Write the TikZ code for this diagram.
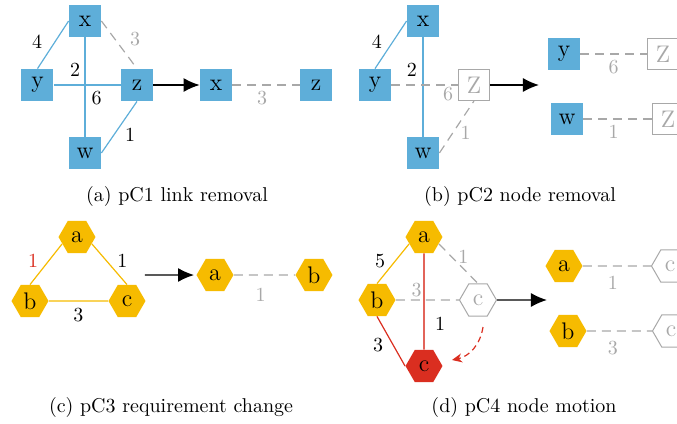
\documentclass[tikz,border=0pt]{standalone}
\usetikzlibrary{arrows.meta,shapes.geometric}
\definecolor{nodeblue}{RGB}{94,174,217}
\definecolor{nodeyellow}{RGB}{246,187,0}
\definecolor{nodered}{RGB}{218,46,32}
\definecolor{linkred}{RGB}{226,100,90}
\definecolor{faded}{RGB}{168,168,168}
\begin{document}
\begin{tikzpicture}[x=0.5pt,y=-0.5pt,
  box/.style={rectangle,fill=nodeblue,minimum size=16pt,inner sep=0pt,font=\large},
  gbox/.style={rectangle,draw=faded,text=faded,fill=white,minimum size=15.5pt,inner sep=0pt,line width=0.5pt,font=\large},
  hex/.style={regular polygon,regular polygon sides=6,fill=nodeyellow,minimum size=18.5pt,inner sep=0pt,font=\large},
  ghex/.style={hex,fill=white,draw=faded,text=faded,line width=0.5pt},
  rhex/.style={hex,fill=nodered},
  blink/.style={nodeblue,line width=0.6pt},
  ylink/.style={nodeyellow,line width=0.6pt},
  rlink/.style={nodered,line width=0.6pt},
  glink/.style={faded,line width=0.6pt,dash pattern=on 4.5pt off 3pt},
  lbl/.style={inner sep=0pt,text=black},
  glbl/.style={lbl,text=faded},
  move/.style={-{Latex[length=8pt,width=7pt]},line width=0.7pt},
  caption/.style={inner sep=0pt}]
\useasboundingbox (0,0) rectangle (677,424);
\clip (0,0) rectangle (677,424);
% (a)
\node[box]   (xa)  at (85,21)    {x};
\node[box]   (ya)  at (37.5,85)  {y};
\node[box]   (za)  at (137,85)   {z};
\node[box]   (wa)  at (85,153)   {w};
\node[box]   (xa2) at (216,85)   {x};
\node[box]   (za2) at (316,85)   {z};
\draw[blink] (xa.west)  -- node[lbl,pos=.5,xshift=-8pt,yshift=1.5pt] {4} (ya.north);
\draw[blink] (xa.south) -- node[lbl,pos=.33,xshift=-5pt] {2} (wa.north);
\draw[blink] (ya.east)  -- node[lbl,pos=.64,yshift=-6.5pt] {6} (za.west);
\draw[blink] (wa.east)  -- node[lbl,pos=.5,xshift=5.5pt,yshift=-4pt] {1} (za.south);
\draw[glink] (xa.east)  -- node[glbl,pos=.5,xshift=8pt,yshift=3pt] {3} (za.north);
\draw[glink] (xa2.east) -- node[glbl,pos=.5,xshift=-2pt,yshift=-6.5pt] {3} (za2.west);
\draw[move]  (za.east)  -- (xa2.west);
\node[caption] (capa) at (177,196) {(a) pC1 link removal};
% (b)
\node[box]   (xb)  at (423,21)   {x};
\node[box]   (yb)  at (375,85)   {y};
\node[gbox]  (zb)  at (474,85)   {Z};
\node[box]   (wb)  at (423,153)  {w};
\node[box]   (yb2) at (564,54)   {y};
\node[gbox]  (zb2) at (663,54)   {Z};
\node[box]   (wb2) at (567,119)  {w};
\node[gbox]  (zb3) at (668,119)  {Z};
\coordinate  (tb)  at (539,85);
\draw[blink] (xb.west)  -- node[lbl,pos=.5,xshift=-7pt,yshift=1.5pt] {4} (yb.north);
\draw[blink] (xb.south) -- node[lbl,pos=.33,xshift=-5.5pt] {2} (wb.north);
\draw[glink] (yb.east)  -- node[glbl,pos=.85,yshift=-4.5pt] {6} (zb.west);
\draw[glink] (wb.east)  -- node[glbl,pos=.5,xshift=4.5pt,yshift=-3pt] {1} (zb.south);
\draw[glink] (yb2.east) -- node[glbl,pos=.5,yshift=-6.5pt] {6} (zb2.west);
\draw[glink] (wb2.east) -- node[glbl,pos=.5,xshift=-2pt,yshift=-6.5pt] {1} (zb3.west);
\draw[move]  (zb.east)  -- (tb);
\node[caption] (capb) at (520,196) {(b) pC2 node removal};
% (c)
\node[hex]   (ac)  at (77,237)   {a};
\node[hex]   (bc)  at (30,301)   {b};
\node[hex]   (cc)  at (127,301)  {c};
\node[hex]   (ac2) at (215,275)  {a};
\node[hex]   (bc2) at (314,275)  {b};
\coordinate  (sc)  at (145,275);
\draw[ylink] (ac.205)   -- node[lbl,pos=.5,xshift=-6.5pt,yshift=1.5pt,text=nodered] {1} (bc.north);
\draw[ylink] (ac.-25)   -- node[lbl,pos=.5,xshift=6.5pt,yshift=1.5pt] {1} (cc.north);
\draw[ylink] (bc.east)  -- node[lbl,pos=.5,yshift=-7pt] {3} (cc.west);
\draw[glink] (ac2.east) -- node[glbl,pos=.5,xshift=-2pt,yshift=-10pt] {1} (bc2.west);
\draw[move,shorten >=1pt] (sc) -- (ac2.west);
\node[caption] (capc) at (171,407) {(c) pC3 requirement change};
% (d)
\node[hex]   (ad)  at (424,237)  {a};
\node[hex]   (bd)  at (377,300)  {b};
\node[ghex]  (cd)  at (478,300)  {c};
\node[rhex]  (rd)  at (424,366)  {c};
\node[hex]   (ad2) at (564,266)  {a};
\node[ghex]  (cd2) at (670,266)  {c};
\node[hex]   (bd2) at (568,331)  {b};
\node[ghex]  (cd3) at (671,331)  {c};
\coordinate  (td)  at (547,300);
\coordinate  (m1)  at (483,327);
\coordinate  (m2)  at (452,360);
\draw[ylink] (ad.205)   -- node[lbl,pos=.5,xshift=-6.5pt,yshift=1.5pt] {5} (bd.north);
\draw[glink] (ad.-25)   -- node[glbl,pos=.5,xshift=2.5pt,yshift=3.5pt] {1} (cd.north);
\draw[glink] (bd.east)  -- node[glbl,pos=.33,yshift=5pt] {3} (cd.west);
\draw[linkred,line width=0.8pt] (ad.south) -- node[lbl,pos=.73,xshift=8pt] {1} (rd.north);
\draw[rlink] (bd.south) -- node[lbl,pos=.5,xshift=-6.5pt,yshift=-2pt] {3} (rd.west);
\draw[glink] (ad2.east) -- node[glbl,pos=.44,yshift=-8.5pt] {1} (cd2.west);
\draw[glink] (bd2.east) -- node[glbl,pos=.4,yshift=-8.5pt] {3} (cd3.west);
\draw[nodered,line width=0.6pt,dash pattern=on 3pt off 2pt,-{Stealth[length=5pt,width=4.5pt]}] (m1) to[bend left=35] (m2);
\draw[move]  (cd.east)  -- (td);
\node[caption] (capd) at (524,407) {(d) pC4 node motion};
\end{tikzpicture}
\end{document}
